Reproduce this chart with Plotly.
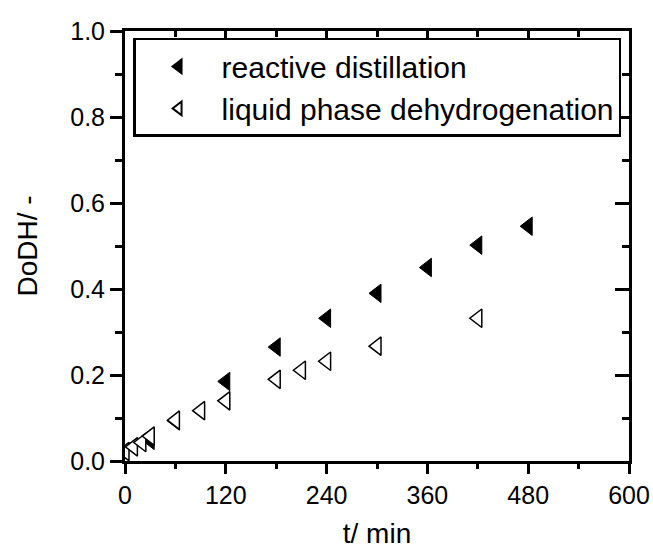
import plotly.graph_objects as go

# Data
t_rd = [30, 60, 120, 180, 240, 300, 360, 420, 480]
dodh_rd = [0.048, 0.093, 0.185, 0.265, 0.332, 0.39, 0.45, 0.502, 0.546]

t_lpd = [0, 10, 20, 30, 60, 90, 120, 180, 210, 240, 300, 420]
dodh_lpd = [0.022, 0.033, 0.043, 0.058, 0.095, 0.117, 0.14, 0.19, 0.211, 0.232, 0.267, 0.332]

x_ticks = [0, 120, 240, 360, 480, 600]
y_ticks = [0.0, 0.2, 0.4, 0.6, 0.8, 1.0]

FONT = "Arial, Liberation Sans, sans-serif"

fig = go.Figure()
fig.add_trace(go.Scatter(
    x=t_rd, y=dodh_rd, mode="markers", name="reactive distillation",
    marker=dict(symbol="triangle-left", size=16, color="black",
                line=dict(color="black", width=1)),
    xaxis="x", yaxis="y"))
fig.add_trace(go.Scatter(
    x=t_lpd, y=dodh_lpd, mode="markers", name="liquid phase dehydrogenation",
    marker=dict(symbol="triangle-left", size=16, color="white",
                line=dict(color="black", width=1.5)),
    xaxis="x2", yaxis="y2"))

axis_common = dict(showline=True, linecolor="black", linewidth=3,
                   showgrid=False, zeroline=False, tickcolor="black",
                   tickwidth=3, automargin=False)

fig.update_layout(
    width=653, height=555,
    margin=dict(l=125, r=24, t=31, b=94),
    paper_bgcolor="white", plot_bgcolor="white",
    font=dict(family=FONT, color="black", size=25),
    showlegend=True,
    legend=dict(x=0.016, y=0.984, xanchor="left", yanchor="top",
                bgcolor="white", bordercolor="black", borderwidth=2.5,
                font=dict(size=30, family=FONT), itemsizing="constant",
                itemwidth=76),
    xaxis=dict(range=[0, 600], tickvals=x_ticks, ticktext=[str(v) for v in x_ticks],
               ticks="outside", ticklen=10,
               minor=dict(ticks="outside", ticklen=5, tickwidth=3, dtick=60, tickcolor="black"),
               title=dict(text="t/ min", font=dict(size=28), standoff=16),
               tickfont=dict(size=25), **axis_common),
    yaxis=dict(range=[0, 1.0], tickvals=y_ticks, ticktext=[f"{v:.1f}" for v in y_ticks],
               ticks="outside", ticklen=12,
               minor=dict(ticks="outside", ticklen=7, tickwidth=3, dtick=0.1, tickcolor="black"),
               title=dict(text="DoDH/ -", font=dict(size=28), standoff=25),
               tickfont=dict(size=25), **axis_common),
    xaxis2=dict(range=[0, 600], overlaying="x", side="top", matches="x",
                tickvals=x_ticks, showticklabels=False, ticks="inside", ticklen=12,
                minor=dict(ticks="inside", ticklen=6, tickwidth=3, dtick=60, tickcolor="black"),
                **axis_common),
    yaxis2=dict(range=[0, 1.0], overlaying="y", side="right", matches="y",
                tickvals=y_ticks, showticklabels=False, ticks="inside", ticklen=14,
                minor=dict(ticks="inside", ticklen=7, tickwidth=3, dtick=0.1, tickcolor="black"),
                **axis_common),
)

fig.write_html("out.html")
